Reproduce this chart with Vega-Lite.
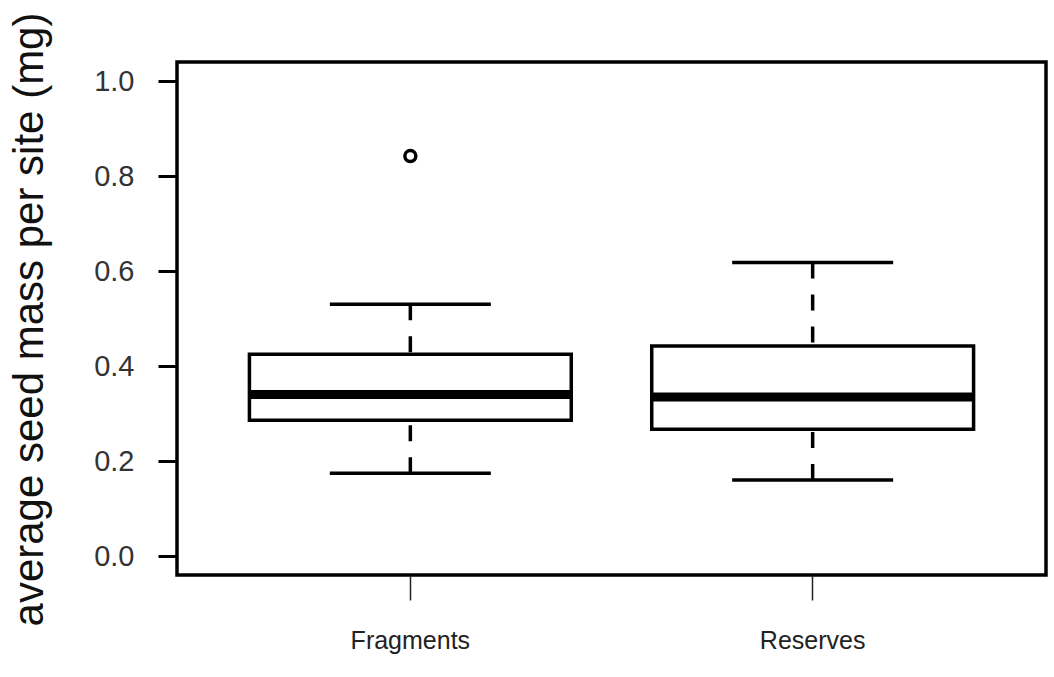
{
  "$schema": "https://vega.github.io/schema/vega-lite/v6.json",
  "autosize": {"type": "none"},
  "width": 869,
  "height": 513,
  "padding": {"left": 177, "top": 62, "right": 8, "bottom": 102},
  "background": "white",
  "config": {
    "view": {"stroke": "black", "strokeWidth": 3.5},
    "font": "Liberation Sans"
  },
  "datasets": {
    "boxes": [
      {"site": "Fragments", "lower": 0.174, "q1": 0.286, "median": 0.340, "q3": 0.425, "upper": 0.530},
      {"site": "Reserves", "lower": 0.160, "q1": 0.267, "median": 0.335, "q3": 0.442, "upper": 0.618}
    ],
    "outliers": [
      {"site": "Fragments", "value": 0.842}
    ]
  },
  "data": {"name": "boxes"},
  "encoding": {
    "x": {
      "field": "site",
      "type": "nominal",
      "sort": ["Fragments", "Reserves"],
      "scale": {"paddingInner": 0.2, "paddingOuter": 0.18},
      "axis": {
        "title": null,
        "domain": false,
        "labelAngle": 0,
        "labelFont": "Liberation Sans",
        "labelFontSize": 25,
        "labelColor": "#222",
        "tickColor": "#222",
        "tickSize": 25,
        "tickWidth": 1.5,
        "labelPadding": 28,
        "labelBaseline": "top"
      }
    }
  },
  "layer": [
    {
      "mark": {"type": "rule", "stroke": "black", "strokeWidth": 3.5, "strokeDash": [16, 16]},
      "encoding": {
        "y": {
          "field": "upper",
          "type": "quantitative",
          "scale": {"domain": [-0.04, 1.04], "nice": false, "zero": false},
          "axis": {
            "title": "average seed mass per site (mg)",
            "titleFontSize": 42,
            "titleFontWeight": "normal",
            "titleColor": "#111",
            "titleX": -148,
            "titleY": 257,
            "titleAlign": "center",
            "titleBaseline": "middle",
            "titleAngle": -90,
            "values": [0, 0.2, 0.4, 0.6, 0.8, 1.0],
            "format": ".1f",
            "domain": false,
            "grid": false,
            "labelFontSize": 29,
            "labelColor": "#333",
            "labelPadding": 24,
            "tickSize": 19,
            "tickWidth": 3,
            "tickColor": "black"
          }
        },
        "y2": {"field": "q3"}
      }
    },
    {
      "mark": {"type": "rule", "stroke": "black", "strokeWidth": 3.5, "strokeDash": [16, 16]},
      "encoding": {
        "y": {"field": "lower", "type": "quantitative"},
        "y2": {"field": "q1"}
      }
    },
    {
      "mark": {"type": "bar", "fill": "white", "stroke": "black", "strokeWidth": 3.5, "opacity": 1},
      "encoding": {
        "y": {"field": "q1", "type": "quantitative"},
        "y2": {"field": "q3"}
      }
    },
    {
      "mark": {"type": "tick", "color": "black", "opacity": 1, "size": 322, "thickness": 9},
      "encoding": {
        "y": {"field": "median", "type": "quantitative"}
      }
    },
    {
      "mark": {"type": "tick", "color": "black", "opacity": 1, "size": 161, "thickness": 3.5},
      "encoding": {
        "y": {"field": "upper", "type": "quantitative"}
      }
    },
    {
      "mark": {"type": "tick", "color": "black", "opacity": 1, "size": 161, "thickness": 3.5},
      "encoding": {
        "y": {"field": "lower", "type": "quantitative"}
      }
    },
    {
      "data": {"name": "outliers"},
      "mark": {"type": "point", "shape": "circle", "filled": false, "stroke": "black", "strokeWidth": 3.5, "size": 120, "opacity": 1},
      "encoding": {
        "y": {"field": "value", "type": "quantitative"}
      }
    }
  ]
}
